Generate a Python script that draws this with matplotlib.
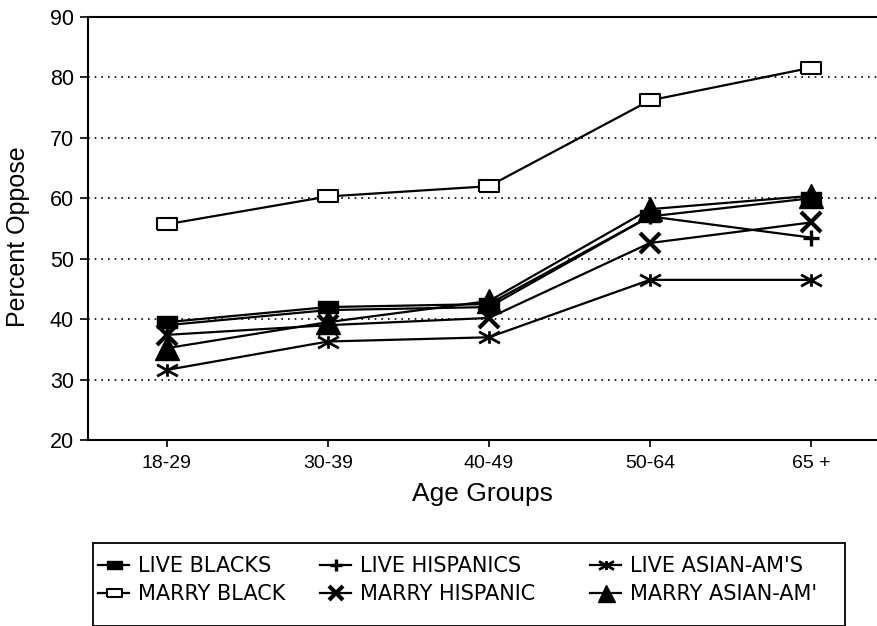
import matplotlib
matplotlib.use("Agg")
import matplotlib.pyplot as plt
from matplotlib.path import Path
from matplotlib.patches import Rectangle

plt.rcParams["font.family"] = ["Liberation Sans", "DejaVu Sans"]

# ---------------------------------------------------------------------------
# Data
# ---------------------------------------------------------------------------
age_groups = ["18-29", "30-39", "40-49", "50-64", "65 +"]

live_blacks    = [39.5, 42.0, 42.5, 57.0, 60.0]
live_hispanics = [39.0, 41.5, 42.0, 57.0, 53.5]
live_asian     = [31.6, 36.3, 37.0, 46.5, 46.5]
marry_black    = [55.7, 60.3, 62.0, 76.2, 81.6]
marry_hispanic = [37.4, 39.0, 40.2, 52.6, 56.0]
marry_asian    = [35.2, 39.5, 43.0, 58.2, 60.4]

# wide rectangle marker like the original plotting package
RECT = [(-1.7, -1), (1.7, -1), (1.7, 1), (-1.7, 1), (-1.7, -1)]
# flat asterisk: two shallow diagonals + short vertical bar
STAR = Path(
    [(-1, -0.55), (1, 0.55), (-1, 0.55), (1, -0.55), (0, -0.6), (0, 0.6)],
    [Path.MOVETO, Path.LINETO] * 3,
)

SERIES = [
    # label, values, marker style
    ("LIVE BLACKS",      live_blacks,    dict(marker=RECT, ms=15, mfc="black", mec="black")),
    ("MARRY BLACK",      marry_black,    dict(marker=RECT, ms=15, mfc="white", mec="black", mew=1.5)),
    ("LIVE HISPANICS",   live_hispanics, dict(marker="+", ms=12, mec="black", mew=2.4)),
    ("MARRY HISPANIC",   marry_hispanic, dict(marker="x", ms=14, mec="black", mew=3.0)),
    ("LIVE ASIAN-AM'S",  live_asian,     dict(marker=STAR, ms=15, mfc="none", mec="black", mew=2.0)),
    ("MARRY ASIAN-AM'",  marry_asian,    dict(marker="^", ms=17, mfc="black", mec="black")),
]

W, H = 877, 626
fig = plt.figure(figsize=(W / 100, H / 100), dpi=100)
ax = fig.add_axes([88 / W, 1 - 440 / H, 1 - 88 / W, (440 - 17) / H])

x = list(range(len(age_groups)))
handles = []
for label, vals, style in SERIES:
    ln, = ax.plot(x, vals, color="black", lw=1.6, label=label, zorder=3, **style)
    handles.append(ln)

ax.set_xlim(-0.49, 4.41)
ax.set_ylim(20, 90)
ax.set_yticks(range(20, 91, 10))
ax.set_xticks(x)
ax.set_xticklabels(age_groups, fontsize=14)
ax.tick_params(axis="y", labelsize=15.5, direction="out", length=6, width=1.2, pad=4)
ax.tick_params(axis="x", direction="out", length=5, width=1.2, pad=6)

ax.yaxis.grid(True, linestyle=(0, (1, 3)), color="black", lw=1.2)
ax.set_axisbelow(True)
ax.spines["right"].set_visible(False)
for s in ["top", "left", "bottom"]:
    ax.spines[s].set_linewidth(1.5)

ax.set_ylabel("Percent Oppose", fontsize=18)
ax.yaxis.set_label_coords((30 - 88) / (W - 88), 0.48)
ax.set_xlabel("Age Groups", fontsize=19, labelpad=7)

# legend box reaching the bottom edge, as in the scan
fig.patches.append(Rectangle((93 / W, 0.0), (845 - 93) / W, (H - 543) / H,
                             transform=fig.transFigure, fill=False,
                             edgecolor="black", lw=1.3))

# one legend per column so the columns sit where the scan has them
col_left = [98, 320, 590]
for i, left in enumerate(col_left):
    leg = fig.legend(
        handles=handles[2 * i:2 * i + 2], loc="upper left",
        bbox_to_anchor=(left / W, 1 - 556 / H),
        prop={"family": "DejaVu Sans", "size": 15}, frameon=False,
        handlelength=1.5, handletextpad=0.4, borderpad=0.0, labelspacing=0.4,
        borderaxespad=0.0,
    )
    for h in leg.legend_handles:
        h.set_markersize(h.get_markersize() * 0.72)

fig.savefig("out.png", dpi=100)
